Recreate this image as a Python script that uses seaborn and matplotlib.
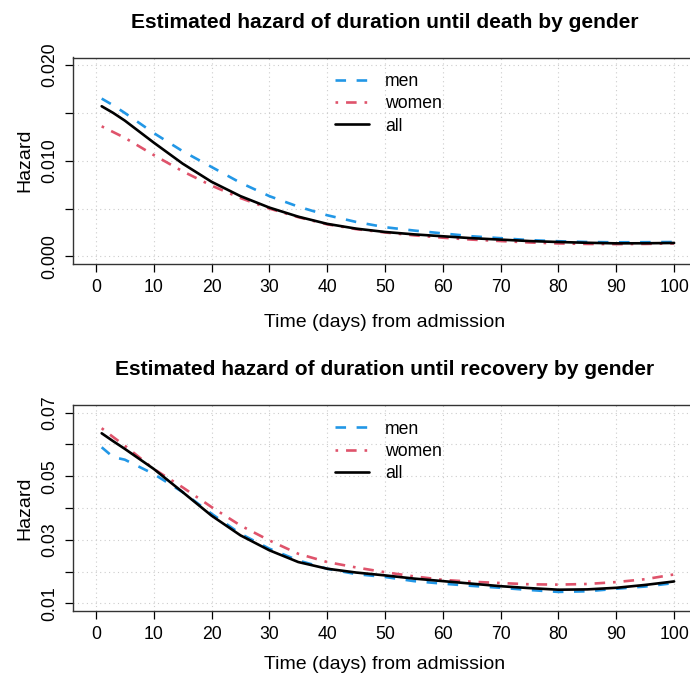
import numpy as np
import pandas as pd
import matplotlib
matplotlib.use("Agg")
import matplotlib.pyplot as plt
import seaborn as sns

days = [1, 3, 5, 10, 15, 20, 25, 30, 35, 40, 45, 50, 55, 60, 65, 70, 75, 80, 85, 90, 95, 100]

death_men = [16.5, 15.8, 15.0, 12.9, 11.0, 9.35, 7.7, 6.3, 5.2, 4.3, 3.6, 3.05, 2.7, 2.4, 2.1, 1.9, 1.7, 1.58, 1.5, 1.47, 1.48, 1.5]
death_women = [13.6, 13.0, 12.4, 10.6, 8.9, 7.4, 6.1, 5.0, 4.1, 3.35, 2.85, 2.5, 2.2, 1.95, 1.75, 1.6, 1.45, 1.35, 1.3, 1.28, 1.3, 1.35]
death_all = [15.7, 15.0, 14.2, 11.9, 9.7, 7.8, 6.3, 5.1, 4.15, 3.4, 2.9, 2.55, 2.3, 2.1, 1.9, 1.75, 1.6, 1.5, 1.42, 1.36, 1.37, 1.4]

rec_men = [59.1, 56.0, 55.2, 50.7, 45.0, 38.2, 31.9, 27.2, 23.5, 20.9, 19.2, 18.3, 17.0, 16.2, 15.5, 14.9, 14.2, 13.6, 13.8, 14.6, 15.3, 16.4]
rec_women = [65.1, 62.3, 59.6, 52.3, 46.5, 40.3, 34.5, 29.8, 25.6, 23.0, 21.3, 19.8, 18.5, 17.4, 16.8, 16.4, 16.0, 15.9, 16.1, 16.7, 17.6, 19.1]
rec_all = [63.5, 61.0, 58.6, 52.3, 45.0, 37.6, 31.4, 26.7, 23.0, 20.9, 19.7, 18.8, 17.8, 17.0, 16.2, 15.4, 14.8, 14.3, 14.4, 14.9, 15.8, 16.9]

groups = ["men", "women", "all"]
titles = ["Estimated hazard of duration until death by gender",
          "Estimated hazard of duration until recovery by gender"]
xlabel = "Time (days) from admission"
ylabel = "Hazard"
x_ticks = [0, 10, 20, 30, 40, 50, 60, 70, 80, 90, 100]
death_yticks = [0.000, 0.005, 0.010, 0.015, 0.020]
death_ylabels = ["0.000", "", "0.010", "", "0.020"]
rec_yticks = [0.01, 0.02, 0.03, 0.04, 0.05, 0.06, 0.07]
rec_ylabels = ["0.01", "", "0.03", "", "0.05", "", "0.07"]

sns.set_theme(style="white")
plt.rcParams["font.family"] = ["Liberation Sans", "DejaVu Sans"]
for k in ["text.color", "axes.labelcolor", "xtick.color", "ytick.color"]:
    plt.rcParams[k] = "black"

palette = {"men": "#2297E6", "women": "#DF536B", "all": "#000000"}
dashes = {"men": (4, 4), "women": (1, 3, 4, 3), "all": ""}

def make_df(men, women, allv):
    rows = []
    for g, vals in zip(groups, [men, women, allv]):
        for d, v in zip(days, vals):
            rows.append({"day": d, "hazard": v / 1000.0, "group": g})
    return pd.DataFrame(rows)

fig = plt.figure(figsize=(6.9, 6.75), dpi=100)
W, H = 690, 675
left_px, right_px = 73, 697
panels = [
    (57.5, 264, make_df(death_men, death_women, death_all), (-0.0008, 0.0208), death_yticks, death_ylabels, titles[0], 13),
    (405, 611, make_df(rec_men, rec_women, rec_all), (0.0076, 0.0724), rec_yticks, rec_ylabels, titles[1], 10),
]
TICK_FS = 12.7
LAB_FS = 14
LEG_FS = 12.7
TITLE_FS = 15.1
for top_px, bot_px, df, ylim, yt, ylab, title, xlpad in panels:
    h = bot_px - top_px
    ax = fig.add_axes([left_px / W, 1 - bot_px / H, (right_px - left_px) / W, h / H])
    sns.lineplot(data=df, x="day", y="hazard", hue="group", style="group",
                 palette=palette, dashes=dashes, hue_order=groups, style_order=groups,
                 linewidth=1.9, ax=ax, legend=False, estimator=None)
    ax.set_xlim(-3.96, 103.96)
    ax.set_ylim(*ylim)
    ax.set_xticks(x_ticks)
    ax.set_xticklabels([str(t) for t in x_ticks], fontsize=TICK_FS)
    ax.set_yticks(yt)
    ax.set_yticklabels(ylab, fontsize=TICK_FS, rotation=90, va="center")
    ax.grid(True, color="#cccccc", linestyle=(0, (1, 3)), linewidth=0.8)
    ax.tick_params(axis="both", direction="out", length=6, width=0.9, color="black",
                   bottom=True, left=True, pad=4.5)
    for s in ax.spines.values():
        s.set_color("#333333")
        s.set_linewidth(1.0)
    ax.set_xlabel(xlabel, fontsize=LAB_FS, labelpad=xlpad)
    ax.set_ylabel(ylabel, fontsize=LAB_FS, labelpad=6)
    ax.text(0.5, 1 + 30 / h, title, transform=ax.transAxes,
            ha="center", va="baseline", fontsize=TITLE_FS, fontweight="bold")
    handles = ax.get_lines()[:3]
    ax.legend(handles, groups, loc="upper left", bbox_to_anchor=(0.42, 1 - 15.5 / h),
              frameon=False, fontsize=LEG_FS, handlelength=1.93, handletextpad=0.9,
              borderaxespad=0, borderpad=0, labelspacing=0.3)

fig.savefig("out.png", dpi=100)
